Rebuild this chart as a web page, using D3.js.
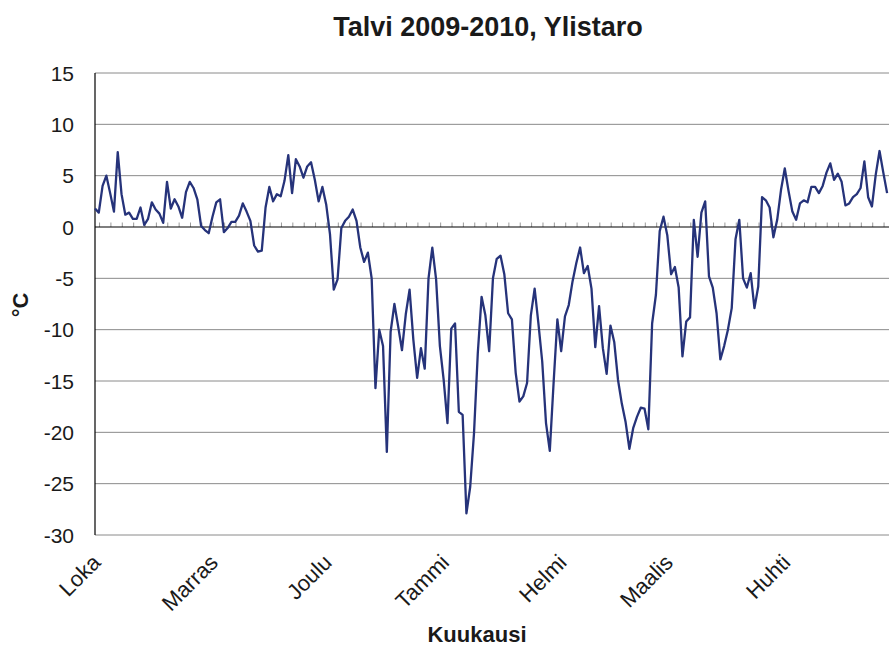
<!DOCTYPE html>
<html>
<head>
<meta charset="utf-8">
<script src="https://cdn.jsdelivr.net/npm/d3@7"></script>
<style>
  html, body { margin: 0; padding: 0; background: #fff; }
  svg { display: block; font-family: "Liberation Sans", Arial, sans-serif; }
</style>
</head>
<body>
<svg id="chart" width="889" height="648"></svg>
<script>
// Daily mean temperature, 1 Oct 2009 onward (day index 0 = 1 Oct)
const temps = [
  1.8, 1.4, 4.0, 5.0, 3.3, 1.5, 7.3, 3.2, 1.2, 1.4,
  0.8, 0.8, 1.9, 0.2, 0.8, 2.4, 1.7, 1.3, 0.4, 4.4,
  1.8, 2.7, 2.0, 0.9, 3.4, 4.4, 3.8, 2.7, 0.1, -0.3,
  -0.6, 1.0, 2.4, 2.7, -0.5, -0.1, 0.5, 0.5, 1.1, 2.3,
  1.5, 0.6, -1.8, -2.4, -2.3, 1.9, 3.9, 2.5, 3.2, 3.0,
  4.5, 7.0, 3.3, 6.6, 5.9, 4.8, 5.9, 6.3, 4.6, 2.5,
  3.9, 2.2, -0.7, -6.1, -5.1, -0.1, 0.6, 1.0, 1.7, 0.6,
  -2.0, -3.4, -2.5, -5.0, -15.7, -10.0, -11.6, -21.9, -10.2, -7.5,
  -9.7, -12.0, -8.5, -6.1, -11.0, -14.7, -11.8, -13.8, -5.0, -2.0,
  -5.1, -11.6, -14.9, -19.1, -9.9, -9.4, -18.0, -18.3, -27.9, -25.3,
  -20.1, -12.3, -6.8, -8.6, -12.1, -5.0, -3.1, -2.8, -4.6, -8.4,
  -9.0, -14.2, -17.0, -16.5, -15.2, -8.6, -6.0, -9.4, -13.1, -19.1,
  -21.8, -15.2, -9.0, -12.1, -8.7, -7.6, -5.3, -3.5, -2.0, -4.5,
  -3.8, -6.0, -11.7, -7.7, -11.8, -14.3, -9.6, -11.2, -14.9, -17.2,
  -19.0, -21.6, -19.6, -18.5, -17.6, -17.7, -19.7, -9.4, -6.6, -0.4,
  1.0, -0.8, -4.6, -3.9, -5.9, -12.6, -9.2, -8.8, 0.7, -2.9,
  1.4, 2.5, -4.8, -5.9, -8.4, -12.9, -11.6, -10.0, -7.9, -1.2,
  0.7, -5.0, -5.9, -4.5, -7.9, -5.8, 2.9, 2.6, 1.9, -1.0,
  0.7, 3.6, 5.7, 3.5, 1.5, 0.7, 2.3, 2.6, 2.4, 3.9,
  3.9, 3.3, 4.0, 5.3, 6.2, 4.6, 5.2, 4.4, 2.1, 2.3,
  2.9, 3.2, 3.8, 6.4, 2.9, 2.0, 5.1, 7.4, 5.3, 3.3
];
const monthNames = ["Loka", "Marras", "Joulu", "Tammi", "Helmi", "Maalis", "Huhti"];
const monthStartDays = [0, 31, 61, 92, 123, 151, 182];
const yTickValues = [15, 10, 5, 0, -5, -10, -15, -20, -25, -30];
const totalDays = 212;
const titleText = "Talvi 2009-2010, Ylistaro";
const xTitle = "Kuukausi";
const yTitle = "°C";

const svg = d3.select("#chart");
const plotLeft = 95, plotTop = 73, plotBottom = 535;
const pxPerDay = 3.79;

const x = d3.scaleLinear().domain([0, totalDays - 1]).range([plotLeft, plotLeft + (totalDays - 1) * pxPerDay]);
const y = d3.scaleLinear().domain([-30, 15]).range([plotBottom, plotTop]);

// gridlines
svg.append("g")
  .selectAll("line")
  .data(yTickValues.filter(v => v !== 0))
  .join("line")
  .attr("x1", plotLeft).attr("x2", 889)
  .attr("y1", d => y(d)).attr("y2", d => y(d))
  .attr("stroke", "#8a8a8a").attr("stroke-width", 1);

// y axis line
svg.append("line")
  .attr("x1", plotLeft).attr("x2", plotLeft)
  .attr("y1", plotTop).attr("y2", plotBottom)
  .attr("stroke", "#000").attr("stroke-width", 1.2);

// zero axis with tick marks
const tickDays = d3.range(1.2, totalDays, 3);
svg.append("g")
  .selectAll("line")
  .data(tickDays)
  .join("line")
  .attr("x1", d => x(d)).attr("x2", d => x(d))
  .attr("y1", y(0) - 4.5).attr("y2", y(0))
  .attr("stroke", "#9a9a9a").attr("stroke-width", 1);
svg.append("line")
  .attr("x1", plotLeft).attr("x2", 889)
  .attr("y1", y(0)).attr("y2", y(0))
  .attr("stroke", "#000").attr("stroke-width", 1.2);

// y tick labels
svg.append("g")
  .selectAll("text")
  .data(yTickValues)
  .join("text")
  .attr("x", 74)
  .attr("y", d => y(d))
  .attr("dy", "0.36em")
  .attr("text-anchor", "end")
  .attr("font-size", 21)
  .attr("fill", "#1a1a1a")
  .text(d => d);

// month labels
svg.append("g")
  .selectAll("text")
  .data(monthStartDays)
  .join("text")
  .attr("transform", d => `translate(${x(d) - 4},${553}) rotate(-45)`)
  .attr("text-anchor", "end")
  .attr("dy", "0.7em")
  .attr("font-size", 22)
  .attr("fill", "#1a1a1a")
  .text((d, i) => monthNames[i]);

// line
svg.append("path")
  .datum(temps)
  .attr("fill", "none")
  .attr("stroke", "#26337a")
  .attr("stroke-width", 2.3)
  .attr("stroke-linejoin", "round")
  .attr("d", d3.line().x((d, i) => x(i)).y(d => y(d)));

// titles
svg.append("text")
  .attr("x", 488).attr("y", 36)
  .attr("text-anchor", "middle")
  .attr("font-size", 27).attr("font-weight", "bold")
  .attr("fill", "#1a1a1a")
  .text(titleText);

svg.append("text")
  .attr("x", 477).attr("y", 642)
  .attr("text-anchor", "middle")
  .attr("font-size", 22).attr("font-weight", "bold")
  .attr("fill", "#1a1a1a")
  .text(xTitle);

svg.append("text")
  .attr("transform", `translate(28,305) rotate(-90)`)
  .attr("text-anchor", "middle")
  .attr("font-size", 22).attr("font-weight", "bold")
  .attr("fill", "#1a1a1a")
  .text(yTitle);
</script>
</body>
</html>
